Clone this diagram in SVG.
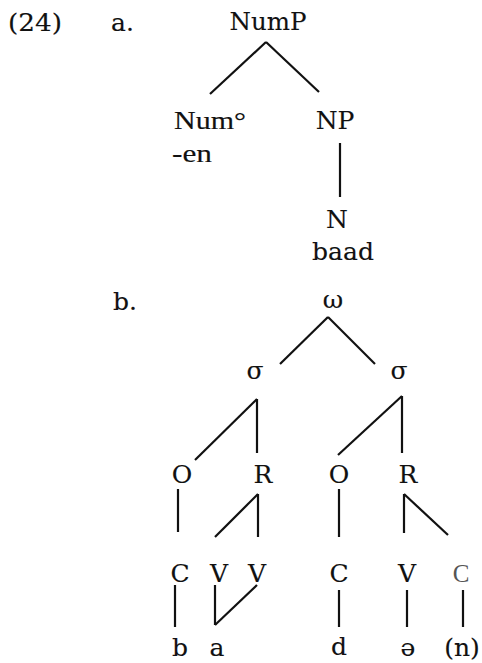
<svg xmlns="http://www.w3.org/2000/svg" width="482" height="663" viewBox="0 0 482 663">
  <style>
    text { font-family: "DejaVu Serif", "Liberation Serif", serif; font-size: 25px; fill: #111; stroke: #111; stroke-width: 0.15px; }
    .tnr { font-family: "Liberation Serif", "Times New Roman", serif; font-size: 26px; }
    .m { text-anchor: middle; }
    .faint { font-family: "Liberation Serif", serif; font-size: 25px; fill: #555; stroke: none; }
    .edges line { stroke: #111; stroke-width: 2.2; stroke-linecap: butt; }
  </style>

  <!-- example labels -->
  <g id="label-24"><text x="8" y="31" textLength="54" lengthAdjust="spacingAndGlyphs">(24)</text></g>
  <g id="label-a"><text x="111" y="31">a.</text></g>
  <g id="label-b"><text x="113" y="310">b.</text></g>

  <!-- (a) syntactic tree -->
  <g id="NumP"><text x="268" y="30" class="m" textLength="77" lengthAdjust="spacingAndGlyphs">NumP</text></g>
  <g id="Num0">
    <text x="174" y="129" class="tnr" textLength="72" lengthAdjust="spacingAndGlyphs">Num°</text>
    <text x="172" y="162" class="tnr" textLength="40" lengthAdjust="spacingAndGlyphs">-en</text>
  </g>
  <g id="NP"><text x="335" y="129" class="m">NP</text></g>
  <g id="N">
    <text x="337" y="228" class="m">N</text>
    <text x="343" y="260" class="m">baad</text>
  </g>

  <!-- (b) prosodic tree -->
  <g id="omega"><text x="333" y="308" class="m">ω</text></g>
  <g id="sigma1"><text x="255" y="379" class="m">σ</text></g>
  <g id="sigma2"><text x="399" y="379" class="m">σ</text></g>
  <g id="O1"><text x="182" y="483" class="m">O</text></g>
  <g id="R1"><text x="263" y="483" class="m">R</text></g>
  <g id="O2"><text x="339" y="483" class="m">O</text></g>
  <g id="R2"><text x="408" y="483" class="m">R</text></g>
  <g id="C1"><text x="180" y="582" class="m">C</text></g>
  <g id="V1"><text x="219" y="582" class="m">V</text></g>
  <g id="V2"><text x="257" y="582" class="m">V</text></g>
  <g id="C2"><text x="339" y="582" class="m">C</text></g>
  <g id="V3"><text x="407" y="582" class="m">V</text></g>
  <g id="C3"><text x="461" y="582" class="m faint">C</text></g>
  <g id="seg-b"><text x="180" y="656" class="m">b</text></g>
  <g id="seg-a"><text x="217" y="656" class="m">a</text></g>
  <g id="seg-d"><text x="339" y="655" class="m">d</text></g>
  <g id="seg-schwa"><text x="408" y="656" class="m">ə</text></g>
  <g id="seg-n"><text x="462" y="656" class="m">(n)</text></g>

  <g id="connectors" class="edges">
    <!-- (a) -->
    <line x1="266" y1="42" x2="210" y2="94"/>
    <line x1="266" y1="42" x2="319" y2="92"/>
    <line x1="340" y1="143" x2="340" y2="197"/>
    <!-- (b) word to syllables -->
    <line x1="328" y1="317" x2="280" y2="364"/>
    <line x1="328" y1="317" x2="375" y2="364"/>
    <!-- syllables to onset / rhyme -->
    <line x1="257" y1="399" x2="195" y2="460"/>
    <line x1="257" y1="399" x2="257" y2="453"/>
    <line x1="402" y1="396" x2="338" y2="455"/>
    <line x1="402" y1="396" x2="402" y2="453"/>
    <!-- onset / rhyme to skeleton -->
    <line x1="178" y1="489" x2="178" y2="532"/>
    <line x1="258" y1="494" x2="215" y2="537"/>
    <line x1="258" y1="494" x2="258" y2="537"/>
    <line x1="339" y1="489" x2="339" y2="537"/>
    <line x1="404" y1="494" x2="404" y2="533"/>
    <line x1="404" y1="494" x2="448" y2="535"/>
    <!-- skeleton to segments -->
    <line x1="175" y1="585" x2="175" y2="627"/>
    <line x1="215" y1="585" x2="215" y2="625"/>
    <line x1="215" y1="625" x2="257" y2="585"/>
    <line x1="339" y1="590" x2="339" y2="627"/>
    <line x1="407" y1="590" x2="407" y2="627"/>
    <line x1="463" y1="590" x2="463" y2="627"/>
  </g>
</svg>
